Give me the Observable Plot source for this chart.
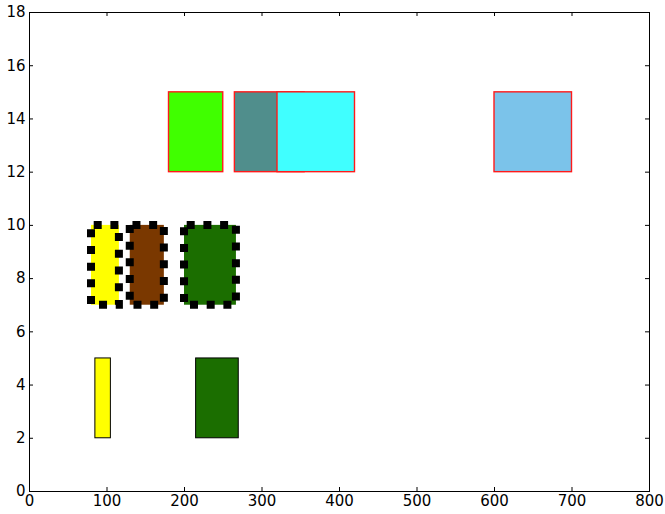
<!DOCTYPE html>
<html><head><meta charset="utf-8">
<script src="https://cdn.jsdelivr.net/npm/d3@7"></script>
<script src="https://cdn.jsdelivr.net/npm/@observablehq/plot@0.6"></script>
<style>body{margin:0;background:#fff;}</style>
</head><body><div id="chart"></div>
<script>
// ---- data ----
const xTicks = [0, 100, 200, 300, 400, 500, 600, 700, 800];
const yTicks = [0, 2, 4, 6, 8, 10, 12, 14, 16, 18];
const barHeight = 3;

const row1Y = 2;
const row1Starts = [85, 215];
const row1Widths = [20, 55];
const row1Colors = ["#ffff00", "#1b6e00"];

const row2Y = 7;
const row2Starts = [80, 130, 200];
const row2Widths = [36, 44, 67];
const row2Colors = ["#ffff00", "#7a3800", "#1b6e00"];

const row3Y = 12;
const row3Starts = [180, 265, 320, 600];
const row3Widths = [70, 90, 100, 100];
const row3Colors = ["#40ff00", "#508e8c", "#40ffff", "#7bc3ea"];

function build(y, starts, widths, colors) {
  return starts.map((s, i) => ({x1: s, x2: s + widths[i], y1: y, y2: y + barHeight, color: colors[i]}));
}
const row1 = build(row1Y, row1Starts, row1Widths, row1Colors);
const row2 = build(row2Y, row2Starts, row2Widths, row2Colors);
const row3 = build(row3Y, row3Starts, row3Widths, row3Colors);

const W = 665, H = 514;
const mL = 29, mR = 16, mT = 12, mB = 23;
const plotH = H - mT - mB, plotW = W - mL - mR;
const tl = 4;

const chart = Plot.plot({
  width: W, height: H,
  marginLeft: mL, marginRight: mR, marginTop: mT, marginBottom: mB,
  style: {fontFamily: "DejaVu Sans", fontSize: "15px", background: "#fff", color: "#000"},
  x: {domain: [0, 800], label: null},
  y: {domain: [0, 18], label: null},
  color: {type: "identity"},
  marks: [
    Plot.rect(row1, {x1: "x1", x2: "x2", y1: "y1", y2: "y2", fill: "color", stroke: "black", strokeWidth: 1}),
    Plot.rect(row2, {x1: "x1", x2: "x2", y1: "y1", y2: "y2", fill: "color"}),
    Plot.rect(row2, {x1: "x1", x2: "x2", y1: "y1", y2: "y2", fill: "none", stroke: "black",
      strokeWidth: 8, strokeDasharray: "8 8.7", strokeDashoffset: 14, strokeLinecap: "butt"}),
    Plot.rect(row3, {x1: "x1", x2: "x2", y1: "y1", y2: "y2", fill: "color", stroke: "#ff1a1a", strokeWidth: 1.4}),
    Plot.ruleX(xTicks, {x: d => d, insetTop: plotH - tl, stroke: "black"}),
    Plot.ruleX(xTicks, {x: d => d, insetBottom: plotH - tl, stroke: "black"}),
    Plot.ruleY(yTicks, {y: d => d, insetRight: plotW - tl, stroke: "black"}),
    Plot.ruleY(yTicks, {y: d => d, insetLeft: plotW - tl, stroke: "black"}),
    Plot.frame({stroke: "black", strokeWidth: 1}),
    Plot.axisX({ticks: xTicks, tickSize: 0, tickPadding: 4, label: null}),
    Plot.axisY({ticks: yTicks, tickSize: 0, tickPadding: 4, label: null})
  ]
});
document.getElementById("chart").appendChild(chart);
</script>
</body></html>
